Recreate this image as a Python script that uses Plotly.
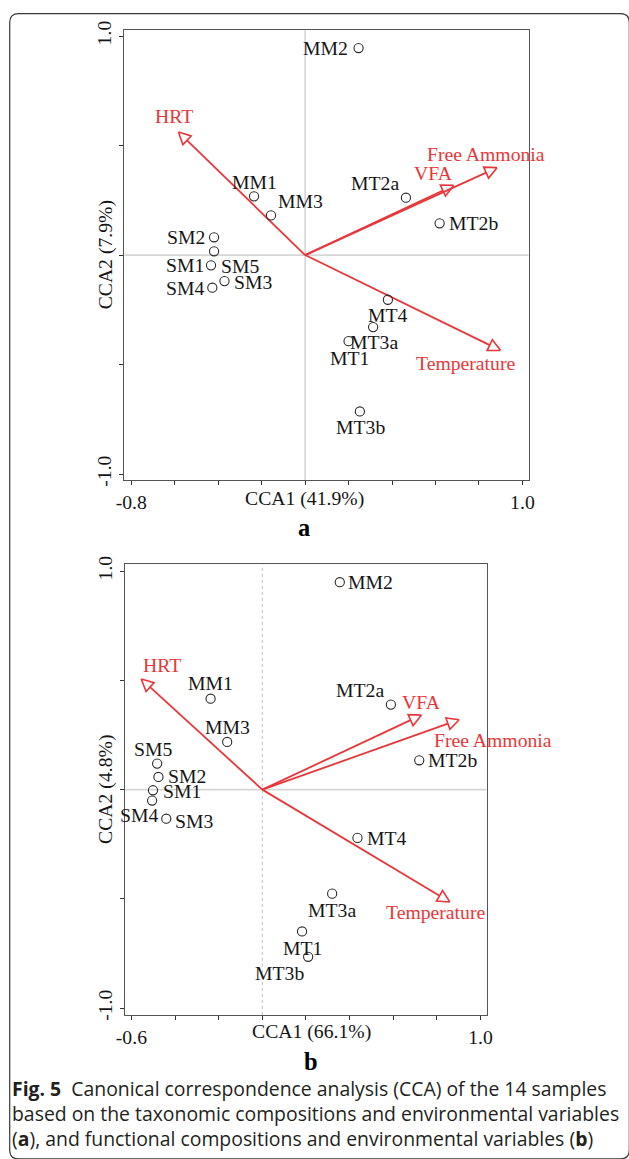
import numpy as np
import plotly.graph_objects as go

# ---------------- data ----------------
samples = ["MM1", "MM2", "MM3", "MT1", "MT2a", "MT2b", "MT3a", "MT3b", "MT4",
           "SM1", "SM2", "SM3", "SM4", "SM5"]
a_x = [-0.235, 0.246, -0.157, 0.200, 0.464, 0.619, 0.313, 0.252, 0.381,
       -0.433, -0.419, -0.371, -0.427, -0.419]
a_y = [0.268, 0.945, 0.181, -0.393, 0.262, 0.145, -0.329, -0.714, -0.204,
       -0.047, 0.081, -0.119, -0.149, 0.017]
b_x = [-0.237, 0.355, -0.161, 0.182, 0.589, 0.719, 0.320, 0.210, 0.436,
       -0.501, -0.476, -0.440, -0.505, -0.482]
b_y = [0.416, 0.949, 0.218, -0.649, 0.389, 0.134, -0.476, -0.765, -0.221,
       -0.003, 0.058, -0.133, -0.050, 0.119]

env_vars = ["HRT", "VFA", "Free Ammonia", "Temperature"]
env_a_x = [-0.583, 0.684, 0.883, 0.899]
env_a_y = [0.562, 0.318, 0.399, -0.435]
env_b_x = [-0.555, 0.729, 0.902, 0.859]
env_b_y = [0.506, 0.341, 0.320, -0.514]

a_xtick_vals = [-0.8, -0.6, -0.4, -0.2, 0.0, 0.2, 0.4, 0.6, 0.8, 1.0]
a_xtick_text = ["-0.8", "", "", "", "", "", "", "", "", "1.0"]
b_xtick_vals = [-0.6, -0.4, -0.2, 0.0, 0.2, 0.4, 0.6, 0.8, 1.0]
b_xtick_text = ["-0.6", "", "", "", "", "", "", "", "1.0"]
ytick_vals = [-1.0, -0.5, 0.0, 0.5, 1.0]
ytick_text = ["-1.0", "", "", "", "1.0"]

a_xtitle = "CCA1 (41.9%)"
a_ytitle = "CCA2 (7.9%)"
b_xtitle = "CCA1 (66.1%)"
b_ytitle = "CCA2 (4.8%)"

caption_lines = [
    "<b>Fig. 5</b>  Canonical correspondence analysis (CCA) of the 14 samples",
    "based on the taxonomic compositions and environmental variables",
    "(<b>a</b>), and functional compositions and environmental variables (<b>b</b>)",
]

# ---------------- styling / layout ----------------
W, H = 629, 1159
# mapping from target-picture pixels to figure pixels (page margin + fit scaling)
SX, SY, OFF = 645 / 629, 1175 / 1159, 8
K = 1.02                      # size factor for markers / arrowheads
SERIF = "Liberation Serif, Times New Roman, serif"
RED = "#E8373A"
TXT = "#151515"
FS = 19.7
CAP_FS = 19.4


def fx(p):
    return p * SX - OFF


def fy(p):
    return p * SY - OFF


def px2paper_x(p):
    return fx(p) / W


def px2paper_y(p):
    return 1 - fy(p) / H


# panel geometry in target pixels: (left, right, top, bottom) and ranges
panels = {
    "a": dict(px=(123, 527, 29, 479), xr=(-0.832, 1.029), yr=(-1.027, 1.027),
              xa="x", ya="y", xaxis="xaxis", yaxis="yaxis"),
    "b": dict(px=(123.3, 485, 563.3, 1014), xr=(-0.631, 1.028), yr=(-1.031, 1.031),
              xa="x2", ya="y2", xaxis="xaxis2", yaxis="yaxis2"),
}

# label placement (xanchor, dx px, dy px; dy positive = down)
lab_a = {
    "MM2": ("right", -8, 0), "MM1": ("center", 0, -14), "MM3": ("left", 5, -14),
    "MT2a": ("right", -5, -14.5), "MT2b": ("left", 7, 0), "SM2": ("right", -7, 0),
    "SM5": ("left", 4.5, 14), "SM1": ("right", -4.5, 0), "SM3": ("left", 7, 0.5),
    "SM4": ("right", -6.5, 0), "MT4": ("center", 0, 15.5), "MT3a": ("center", 1, 15),
    "MT1": ("center", 1, 16.5), "MT3b": ("center", 1, 15),
}
lab_b = {
    "MM2": ("left", 6.5, 0), "MM1": ("center", 0, -15), "MM3": ("center", 0, -14.5),
    "MT2a": ("right", -5, -14), "MT2b": ("left", 7, 0), "SM5": ("center", -4.5, -14),
    "SM2": ("left", 7, -1), "SM1": ("left", 8, 1), "SM4": ("right", 7.5, 14.5),
    "SM3": ("left", 6.5, 2.5), "MT4": ("left", 7, 0), "MT3a": ("center", 0, 16),
    "MT1": ("center", 0, 16.5), "MT3b": ("center", -28, 16),
}
env_lab_a = {"HRT": (-4, -15.7), "VFA": (-20, -12.6), "Free Ammonia": (-11, -13.4),
             "Temperature": (-34, 12.7)}
env_lab_b = {"HRT": (20.5, -13.7), "VFA": (0, -12.7), "Free Ammonia": (32.6, 20),
             "Temperature": (-13.6, 10)}

fig = go.Figure()
annotations = []
shapes = []


def add_panel(key, xs, ys, ex, ey, labs, elabs, xtv, xtt, xtitle, ytitle,
              xtitle_px, letter, letter_px, vline_dash):
    P = panels[key]
    l, r, t, b = P["px"]
    sx = (fx(r) - fx(l)) / (P["xr"][1] - P["xr"][0])
    sy = (fy(b) - fy(t)) / (P["yr"][1] - P["yr"][0])
    xa, ya = P["xa"], P["ya"]

    shapes.append(dict(type="line", xref=xa, yref=ya, x0=0, x1=0,
                       y0=P["yr"][0], y1=P["yr"][1], layer="below",
                       line=dict(color="#bdbdbd", width=1, dash=vline_dash)))
    shapes.append(dict(type="line", xref=xa, yref=ya, y0=0, y1=0,
                       x0=P["xr"][0], x1=P["xr"][1], layer="below",
                       line=dict(color="#d6d6d6", width=1.8)))

    # environmental arrows with hollow heads
    L, Wh = 12.0 * K, 6.0 * K
    for name, tx, ty in zip(env_vars, ex, ey):
        tip = np.array([tx * sx, ty * sy])
        v = tip / np.linalg.norm(tip)
        perp = np.array([-v[1], v[0]])
        base = tip - v * L
        c1 = base + perp * Wh
        c2 = base - perp * Wh
        fig.add_trace(go.Scatter(x=[0, base[0] / sx], y=[0, base[1] / sy],
                                 mode="lines", line=dict(color=RED, width=1.8),
                                 xaxis=xa, yaxis=ya, showlegend=False, hoverinfo="skip"))
        fig.add_trace(go.Scatter(x=[tip[0] / sx, c1[0] / sx, c2[0] / sx, tip[0] / sx],
                                 y=[tip[1] / sy, c1[1] / sy, c2[1] / sy, tip[1] / sy],
                                 mode="lines", fill="toself", fillcolor="white",
                                 line=dict(color=RED, width=1.6),
                                 xaxis=xa, yaxis=ya, showlegend=False, hoverinfo="skip"))
        dx, dy = elabs[name]
        annotations.append(dict(x=tx, y=ty, xref=xa, yref=ya, text=name,
                                showarrow=False, xanchor="center", yanchor="middle",
                                xshift=dx * SX, yshift=-dy * SY,
                                font=dict(family=SERIF, size=FS, color=RED)))

    fig.add_trace(go.Scatter(x=xs, y=ys, mode="markers",
                             marker=dict(symbol="circle-open", size=9 * K,
                                         line=dict(color="#2a2a2a", width=1.1),
                                         color="#2a2a2a"),
                             xaxis=xa, yaxis=ya, showlegend=False))
    for name, x, y in zip(samples, xs, ys):
        anc, dx, dy = labs[name]
        annotations.append(dict(x=x, y=y, xref=xa, yref=ya, text=name,
                                showarrow=False, xanchor=anc, yanchor="middle",
                                xshift=dx * SX, yshift=-dy * SY,
                                font=dict(family=SERIF, size=FS, color=TXT)))

    fig.layout[P["xaxis"]] = dict(
        domain=[px2paper_x(l), px2paper_x(r)], range=list(P["xr"]),
        anchor=ya, showgrid=False, zeroline=False, showline=True, mirror=True,
        linecolor="#555555", linewidth=1, ticks="outside", ticklen=4,
        tickcolor="#333333", tickvals=xtv, ticktext=xtt,
        tickfont=dict(family=SERIF, size=FS, color=TXT), fixedrange=True)
    fig.layout[P["yaxis"]] = dict(
        domain=[px2paper_y(b), px2paper_y(t)], range=list(P["yr"]),
        anchor=xa, showgrid=False, zeroline=False, showline=True, mirror=True,
        linecolor="#555555", linewidth=1, ticks="outside", ticklen=4,
        tickcolor="#333333", tickvals=ytick_vals, ticktext=ytick_text,
        tickangle=-90, tickfont=dict(family=SERIF, size=FS, color=TXT), fixedrange=True)

    annotations.append(dict(x=px2paper_x(xtitle_px[0]), y=px2paper_y(xtitle_px[1]),
                            xref="paper", yref="paper", text=xtitle, showarrow=False,
                            xanchor="center", yanchor="middle",
                            font=dict(family=SERIF, size=FS, color=TXT)))
    annotations.append(dict(x=px2paper_x(104), y=0, xref="paper", yref=ya,
                            text=ytitle, showarrow=False, textangle=-90,
                            xanchor="center", yanchor="middle",
                            font=dict(family=SERIF, size=FS, color=TXT)))
    annotations.append(dict(x=px2paper_x(letter_px[0]), y=px2paper_y(letter_px[1]),
                            xref="paper", yref="paper", text="<b>%s</b>" % letter,
                            showarrow=False, xanchor="center", yanchor="middle",
                            font=dict(family=SERIF, size=24 * K, color="#000000")))


add_panel("a", a_x, a_y, env_a_x, env_a_y, lab_a, env_lab_a, a_xtick_vals, a_xtick_text,
          a_xtitle, a_ytitle, (303, 497), "a", (303, 526), "solid")
add_panel("b", b_x, b_y, env_b_x, env_b_y, lab_b, env_lab_b, b_xtick_vals, b_xtick_text,
          b_xtitle, b_ytitle, (310, 1031), "b", (310, 1061), "dot")

# caption
for i, line in enumerate(caption_lines):
    annotations.append(dict(x=px2paper_x(9), y=px2paper_y(1088 + 25 * i),
                            xref="paper", yref="paper", text=line, showarrow=False,
                            xanchor="left", yanchor="middle", align="left",
                            font=dict(family="Open Sans, Noto Sans, sans-serif",
                                      size=CAP_FS, color="#231F20")))

# outer rounded frame (target pixels)
bl, bt, br, bb, rad = 8.5, 12.5, 627.5, 1158, 9


def Pt(xp, yp):
    return "%.5f,%.5f" % (px2paper_x(xp), px2paper_y(yp))


path = ("M " + Pt(bl, bb - rad) + " L " + Pt(bl, bt + rad) + " Q " + Pt(bl, bt) + " " +
        Pt(bl + rad, bt) + " L " + Pt(br - rad, bt) + " Q " + Pt(br, bt) + " " +
        Pt(br, bt + rad) + " L " + Pt(br, bb - rad) + " Q " + Pt(br, bb) + " " +
        Pt(br - rad, bb) + " L " + Pt(bl + rad, bb) + " Q " + Pt(bl, bb) + " " +
        Pt(bl, bb - rad) + " Z")
shapes.append(dict(type="path", xref="paper", yref="paper", path=path,
                   line=dict(color="#3a3a3a", width=1.2), layer="below"))

fig.update_layout(width=W, height=H, margin=dict(l=0, r=0, t=0, b=0),
                  paper_bgcolor="white", plot_bgcolor="white",
                  annotations=annotations, shapes=shapes, showlegend=False)

fig.write_html("out.html")
